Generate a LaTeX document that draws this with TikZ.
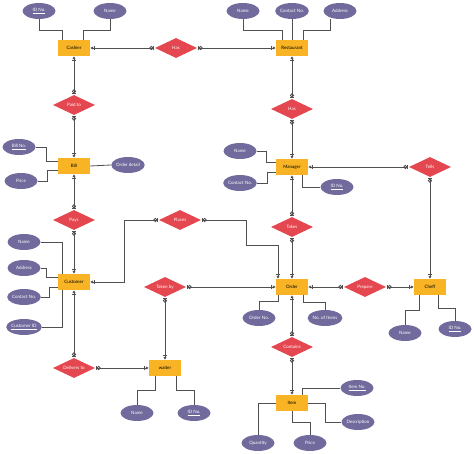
\documentclass[tikz,border=0pt]{standalone}
\usepackage{fontspec}
\setmainfont{Lato}
\usetikzlibrary{shapes,arrows.meta,positioning,calc}

\definecolor{entfill}{HTML}{F9B425}
\definecolor{relfill}{HTML}{E4474F}
\definecolor{attfill}{HTML}{716A9C}
\definecolor{linec}{HTML}{505050}

\begin{document}
\begin{tikzpicture}[x=1pt,y=-1pt,
	font=\fontsize{4.5}{5}\selectfont,
	entity/.style={draw=none, fill=entfill, minimum width=32pt, minimum height=16pt, inner sep=0pt},
	rel/.style={diamond, aspect=2.1, fill=relfill, text=white, minimum width=42pt, minimum height=20pt, inner sep=0pt},
	attr/.style={ellipse, fill=attfill, text=white, minimum width=33pt, minimum height=16pt, inner sep=0pt},
	link/.style={draw=linec, line width=0.8pt},
	card/.style={link, {Bar[width=3.5pt,sep=0.6pt]Circle[open,length=4pt,width=4pt]}-{Bar[width=4.5pt,sep=0.8pt]Latex[length=3pt,width=3.5pt]}}]
	\useasboundingbox (0,0) rectangle (474,454);
	
	% Entities
	\node[entity] (cashier) at (74,48) {Cashier};
	\node[entity] (restaurant) at (292,48) {Restaurant};
	\node[entity] (bill) at (74,166) {Bill};
	\node[entity] (manager) at (292,167) {Manager};
	\node[entity] (customer) at (74,282) {Customer};
	\node[entity] (order) at (292,287) {Order};
	\node[entity] (cheff) at (430,287) {Cheff};
	\node[entity] (waiter) at (165,368) {waiter};
	\node[entity] (item) at (292,403) {Item};
	
	% Relationships
	\node[rel] (hasA) at (176,48) {Has};
	\node[rel] (paid) at (74,105) {Paid to};
	\node[rel] (hasB) at (292,109) {Has};
	\node[rel] (tells) at (430,167) {Tells};
	\node[rel] (pays) at (74,220) {Pays};
	\node[rel] (places) at (180,220) {Places};
	\node[rel] (takes) at (292,227) {Takes};
	\node[rel] (taken) at (165,287) {Taken by};
	\node[rel] (prepare) at (365,287) {Prepare};
	\node[rel] (contains) at (292,347) {Contains};
	\node[rel] (delivers) at (74,368) {Delivers to};
	
	% Attributes
	\node[attr] (cid) at (39,11) {\underline{ID No.}};
	\node[attr] (cname) at (110,11) {Name};
	\node[attr] (rname) at (243,11) {Name};
	\node[attr] (rcontact) at (292,11) {Contact No.};
	\node[attr] (raddr) at (340,11) {Address};
	\node[attr] (billno) at (19,147) {\underline{Bill No.}};
	\node[attr] (bprice) at (21,181) {Price};
	\node[attr] (bdetail) at (128,165) {Order detail};
	\node[attr] (mname) at (240,151) {Name};
	\node[attr] (mcontact) at (240,183) {Contact No.};
	\node[attr] (mid) at (337,187) {\underline{ID No.}};
	\node[attr] (cuname) at (24,242) {Name};
	\node[attr] (cuaddr) at (24,268) {Address};
	\node[attr] (cucontact) at (24,297) {Contact No.};
	\node[attr, minimum width=34pt] (cuid) at (24,327) {\underline{Customer ID}};
	\node[attr] (ono) at (259,318) {Order No.};
	\node[attr] (onum) at (325,318) {No. of Items};
	\node[attr] (chname) at (405,333) {Name};
	\node[attr] (chid) at (455,329) {\underline{ID No.}};
	\node[attr] (wname) at (137,413) {Name};
	\node[attr] (wid) at (194,413) {\underline{ID No.}};
	\node[attr] (ino) at (357,388) {\underline{Item No.}};
	\node[attr] (idesc) at (358,422) {Description};
	\node[attr] (iqty) at (258,443) {Quantity};
	\node[attr] (iprice) at (310,443) {Price};
	
	% Attribute links
	\draw[link] (cid.south) -- ++(0,11) -| ([xshift=-12pt]cashier.north);
	\draw[link] (cname.south) -- ++(0,11) -| ([xshift=9pt]cashier.north);
	\draw[link] (rname.south) -- ++(0,11) -| ([xshift=-10pt]restaurant.north);
	\draw[link] (rcontact.south) -- (restaurant.north);
	\draw[link] ([xshift=-10pt]raddr.south) -- ++(0,11) -| ([xshift=11pt]restaurant.north);
	\draw[link] (billno.east) -- ++(11,0) |- ([yshift=5pt]bill.west);
	\draw[link] (bprice.east) -- ++(10,0) |- ([yshift=-4pt]bill.west);
	\draw[link] (bill.east) -- (bdetail.west);
	\draw[link] (mname.east) -- ++(10,0) |- ([yshift=5pt]manager.west);
	\draw[link] (mcontact.east) -- ++(10,0) |- ([yshift=-5pt]manager.west);
	\draw[link] ([xshift=10pt]manager.south) |- (mid.west);
	\draw[link] (cuname.east) -| ([xshift=-12pt]customer.north);
	\draw[link] (cuaddr.east) -- ++(6,0) |- ([yshift=5pt]customer.west);
	\draw[link] (cucontact.east) -- ++(8,0) |- ([yshift=-5pt]customer.west);
	\draw[link] (cuid.east) -| ([xshift=-12pt]customer.south);
	\draw[link] (ono.north) -- ++(0,-8) -| ([xshift=-14pt]order.south);
	\draw[link] ([xshift=11pt]order.south) -- ++(0,7) -| (onum.north);
	\draw[link] ([xshift=-11pt]cheff.south) -- ++(0,15) -| (chname.north);
	\draw[link] ([xshift=8pt]cheff.south) -- ++(0,13) -| (chid.north);
	\draw[link] ([xshift=-10pt]waiter.south) -- ++(0,14) -| (wname.north);
	\draw[link] ([xshift=11pt]waiter.south) -- ++(0,14) -| (wid.north);
	\draw[link] ([xshift=10pt]item.north) |- (ino.west);
	\draw[link] (item.east) -- ++(17,0) |- (idesc.west);
	\draw[link] (item.west) -| (iqty.north);
	\draw[link] (item.south) -- ++(0,11) -| (iprice.north);
	
	% Relationship links
	\draw[card] (hasA.west) -- (cashier.east);
	\draw[card] (hasA.east) -- (restaurant.west);
	\draw[card] (paid.north) -- (cashier.south);
	\draw[card] (paid.south) -- (bill.north);
	\draw[card] (hasB.north) -- (restaurant.south);
	\draw[card] (hasB.south) -- (manager.north);
	\draw[card] (tells.west) -- (manager.east);
	\draw[card] (tells.south) -- (cheff.north);
	\draw[card] (pays.north) -- (bill.south);
	\draw[card] (pays.south) -- (customer.north);
	\draw[card] (places.west) -| ([xshift=34pt]customer.east) -- (customer.east);
	\draw[card] (places.east) -| ++(45,25) -| ([xshift=-14pt]order.north);
	\draw[card] (takes.north) -- (manager.south);
	\draw[card] (takes.south) -- (order.north);
	\draw[card] (taken.east) -- (order.west);
	\draw[card] (taken.south) -- (waiter.north);
	\draw[card] (prepare.west) -- (order.east);
	\draw[card] (prepare.east) -- (cheff.west);
	\draw[card] (contains.north) -- (order.south);
	\draw[card] (contains.south) -- (item.north);
	\draw[card] (delivers.north) -- (customer.south);
	\draw[card] (delivers.east) -- (waiter.west);
\end{tikzpicture}
\end{document}
